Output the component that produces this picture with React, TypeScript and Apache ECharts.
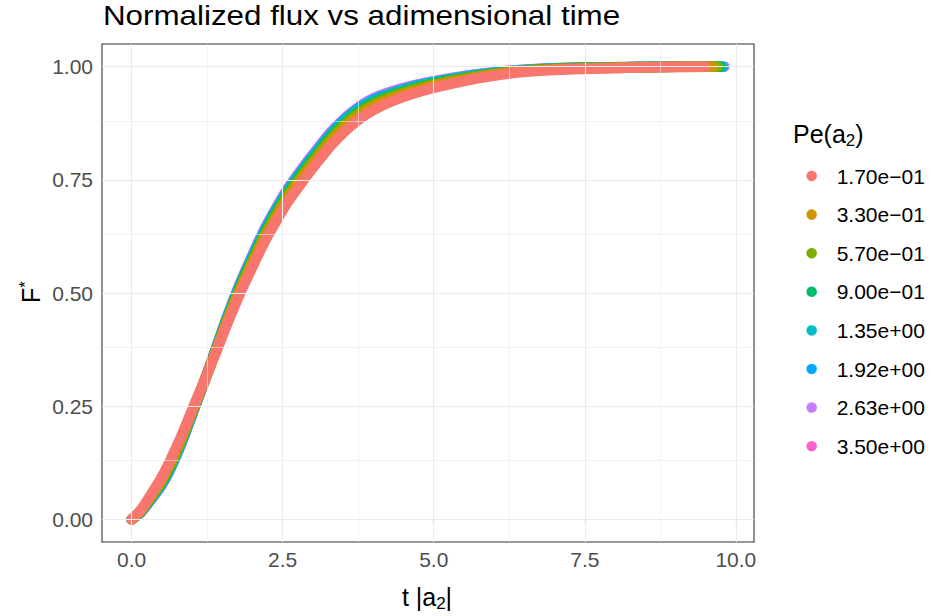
import React, { useEffect, useRef } from 'react';
import * as echarts from 'echarts';

// adimensional time sampling points (shared), plus each series' last time
const T_GRID = [0, 0.15, 0.33, 0.48, 0.62, 0.82, 1.02, 1.2, 1.37, 1.57, 1.78, 2.0, 2.2, 2.4, 2.58, 2.86, 3.05, 3.3, 3.55, 3.79, 4.0, 4.3, 4.65, 5.0, 5.6, 6.26, 6.9, 7.47, 8.41];
const T_END = [9.49, 9.62, 9.7, 9.75, 9.77, 9.79, 9.81, 9.81];

// normalized flux F* per Pe(a2)
const F_017 = [0, 0.02, 0.057, 0.089, 0.125, 0.183, 0.248, 0.305, 0.36, 0.428, 0.495, 0.558, 0.613, 0.66, 0.7, 0.752, 0.785, 0.826, 0.86, 0.886, 0.904, 0.923, 0.94, 0.953, 0.971, 0.985, 0.992, 0.995, 0.998, 1.0];
const F_033 = [0, 0.019, 0.053, 0.084, 0.119, 0.178, 0.245, 0.304, 0.362, 0.433, 0.502, 0.566, 0.621, 0.669, 0.709, 0.761, 0.794, 0.835, 0.869, 0.894, 0.912, 0.93, 0.945, 0.958, 0.974, 0.987, 0.993, 0.996, 0.998, 1.0];
const F_057 = [0, 0.018, 0.051, 0.081, 0.115, 0.175, 0.243, 0.304, 0.364, 0.436, 0.506, 0.571, 0.627, 0.675, 0.715, 0.767, 0.8, 0.841, 0.875, 0.9, 0.917, 0.934, 0.949, 0.961, 0.976, 0.988, 0.994, 0.997, 0.999, 1.0];
const F_090 = [0, 0.017, 0.049, 0.078, 0.112, 0.172, 0.242, 0.304, 0.365, 0.438, 0.509, 0.575, 0.631, 0.68, 0.72, 0.772, 0.805, 0.846, 0.879, 0.904, 0.921, 0.937, 0.952, 0.963, 0.978, 0.989, 0.995, 0.997, 0.999, 1.0];
const F_135 = [0, 0.016, 0.048, 0.076, 0.109, 0.17, 0.24, 0.303, 0.366, 0.441, 0.512, 0.578, 0.635, 0.683, 0.723, 0.775, 0.808, 0.849, 0.883, 0.908, 0.924, 0.94, 0.954, 0.965, 0.979, 0.99, 0.995, 0.997, 0.999, 1.0];
const F_192 = [0, 0.016, 0.046, 0.074, 0.107, 0.168, 0.239, 0.303, 0.367, 0.442, 0.514, 0.581, 0.638, 0.686, 0.726, 0.778, 0.811, 0.852, 0.886, 0.911, 0.927, 0.942, 0.956, 0.966, 0.98, 0.99, 0.996, 0.998, 0.999, 1.0];
const F_263 = [0, 0.015, 0.046, 0.073, 0.106, 0.167, 0.239, 0.303, 0.368, 0.443, 0.516, 0.583, 0.64, 0.689, 0.729, 0.781, 0.814, 0.855, 0.888, 0.913, 0.929, 0.944, 0.957, 0.967, 0.981, 0.991, 0.996, 0.998, 0.999, 1.0];
const F_350 = [0, 0.015, 0.045, 0.072, 0.105, 0.166, 0.238, 0.303, 0.368, 0.444, 0.517, 0.584, 0.641, 0.69, 0.73, 0.782, 0.815, 0.856, 0.889, 0.914, 0.93, 0.945, 0.958, 0.968, 0.981, 0.991, 0.996, 0.998, 0.999, 1.0];

const SERIES_LABELS = ['1.70e\u221201', '3.30e\u221201', '5.70e\u221201', '9.00e\u221201', '1.35e+00', '1.92e+00', '2.63e+00', '3.50e+00'];
const SERIES_VALUES = [F_017, F_033, F_057, F_090, F_135, F_192, F_263, F_350];
const SERIES_COLORS = ['#F8766D', '#CD9600', '#7CAE00', '#00BE67', '#00BFC4', '#00A9FF', '#C77CFF', '#FF61CC'];

const X_BREAKS = [0, 2.5, 5, 7.5, 10];
const X_MINOR = [1.25, 3.75, 6.25, 8.75];
const Y_BREAKS = [0, 0.25, 0.5, 0.75, 1];
const Y_MINOR = [0.125, 0.375, 0.625, 0.875];

const FONT = "'Liberation Sans', Arial, Helvetica, sans-serif";

export default function App() {
  const ref = useRef<HTMLDivElement>(null);

  useEffect(() => {
    document.body.style.margin = '0';
    const chart = echarts.init(ref.current as HTMLDivElement, null, { renderer: 'svg' });

    const dataSeries = SERIES_LABELS.map((name, i) => ({
      name,
      type: 'line',
      data: [...T_GRID, T_END[i]].map((t, j) => [t, SERIES_VALUES[i][j]]),
      showSymbol: false,
      symbol: 'circle',
      smooth: 0.25,
      lineStyle: { width: 10.5, color: SERIES_COLORS[i], cap: 'round', join: 'round' },
      itemStyle: { color: SERIES_COLORS[i] },
      emphasis: { disabled: true },
      silent: true,
      z: 2,
    })).reverse();

    const gl = (w: number) => ({ color: '#EBEBEB', width: w, type: 'solid' });
    const gridSeries = {
      type: 'line',
      data: [],
      z: 1,
      silent: true,
      markLine: {
        silent: true,
        symbol: ['none', 'none'],
        label: { show: false },
        animation: false,
        emphasis: { disabled: true },
        data: [
          ...X_MINOR.map((v) => ({ xAxis: v, lineStyle: gl(0.6) })),
          ...Y_MINOR.map((v) => ({ yAxis: v, lineStyle: gl(0.6) })),
          ...X_BREAKS.map((v) => ({ xAxis: v, lineStyle: gl(1.1) })),
          ...Y_BREAKS.map((v) => ({ yAxis: v, lineStyle: gl(1.1) })),
        ],
      },
    };

    chart.setOption({
      animation: false,
      backgroundColor: '#FFFFFF',
      grid: {
        left: 102,
        right: 179,
        top: 44,
        bottom: 74,
        show: true,
        borderColor: '#333333',
        borderWidth: 1.1,
        backgroundColor: 'transparent',
        containLabel: false,
      },
      xAxis: {
        type: 'value',
        min: -0.4905,
        max: 10.3005,
        axisLine: { show: false },
        splitLine: { show: false },
        axisTick: { show: true, customValues: X_BREAKS, length: 4.5, lineStyle: { color: '#333333', width: 1.1 } },
        axisLabel: {
          customValues: X_BREAKS,
          formatter: (v: number) => v.toFixed(1),
          color: '#4D4D4D',
          fontSize: 21,
          fontFamily: FONT,
          margin: 7,
        },
      },
      yAxis: {
        type: 'value',
        min: -0.05,
        max: 1.05,
        axisLine: { show: false },
        splitLine: { show: false },
        axisTick: { show: true, customValues: Y_BREAKS, length: 4.5, lineStyle: { color: '#333333', width: 1.1 } },
        axisLabel: {
          customValues: Y_BREAKS,
          formatter: (v: number) => v.toFixed(2),
          color: '#4D4D4D',
          fontSize: 21,
          fontFamily: FONT,
          margin: 9,
        },
      },
      legend: {
        data: SERIES_LABELS,
        orient: 'vertical',
        left: 806.4,
        top: 165.5,
        padding: 0,
        icon: 'circle',
        itemWidth: 40,
        itemHeight: 10.5,
        itemGap: 17.6,
        itemStyle: { borderWidth: 0 },
        selectedMode: false,
        textStyle: { fontSize: 21, color: '#000000', fontFamily: FONT, lineHeight: 20 },
      },
      graphic: [
        {
          type: 'text',
          x: 103,
          y: 15,
          scaleX: 1.1,
          silent: true,
          style: {
            text: 'Normalized flux vs adimensional time',
            fill: '#000000',
            fontSize: 28.5,
            fontFamily: FONT,
            align: 'left',
            verticalAlign: 'middle',
          },
        },
        {
          type: 'text',
          x: 427,
          y: 597,
          silent: true,
          style: {
            text: '{a|t |a}{s|2}{a||}',
            align: 'center',
            verticalAlign: 'middle',
            rich: {
              a: { fontSize: 25, fontFamily: FONT, fill: '#000000', lineHeight: 29 },
              s: { fontSize: 17, fontFamily: FONT, fill: '#000000', lineHeight: 17, verticalAlign: 'bottom' },
            },
          },
        },
        {
          type: 'text',
          x: 31,
          y: 292,
          rotation: Math.PI / 2,
          silent: true,
          style: {
            text: '{a|F}{s|*}',
            align: 'center',
            verticalAlign: 'middle',
            rich: {
              a: { fontSize: 25, fontFamily: FONT, fill: '#000000', lineHeight: 29 },
              s: { fontSize: 17, fontFamily: FONT, fill: '#000000', lineHeight: 17, verticalAlign: 'top' },
            },
          },
        },
        {
          type: 'text',
          x: 793,
          y: 134,
          silent: true,
          style: {
            text: '{a|Pe(a}{s|2}{a|)}',
            align: 'left',
            verticalAlign: 'middle',
            rich: {
              a: { fontSize: 25, fontFamily: FONT, fill: '#000000', lineHeight: 29 },
              s: { fontSize: 17, fontFamily: FONT, fill: '#000000', lineHeight: 17, verticalAlign: 'bottom' },
            },
          },
        },
      ],
      series: [gridSeries, ...dataSeries],
    });

    return () => {
      chart.dispose();
    };
  }, []);

  return <div ref={ref} style={{ width: 933, height: 616 }} />;
}
